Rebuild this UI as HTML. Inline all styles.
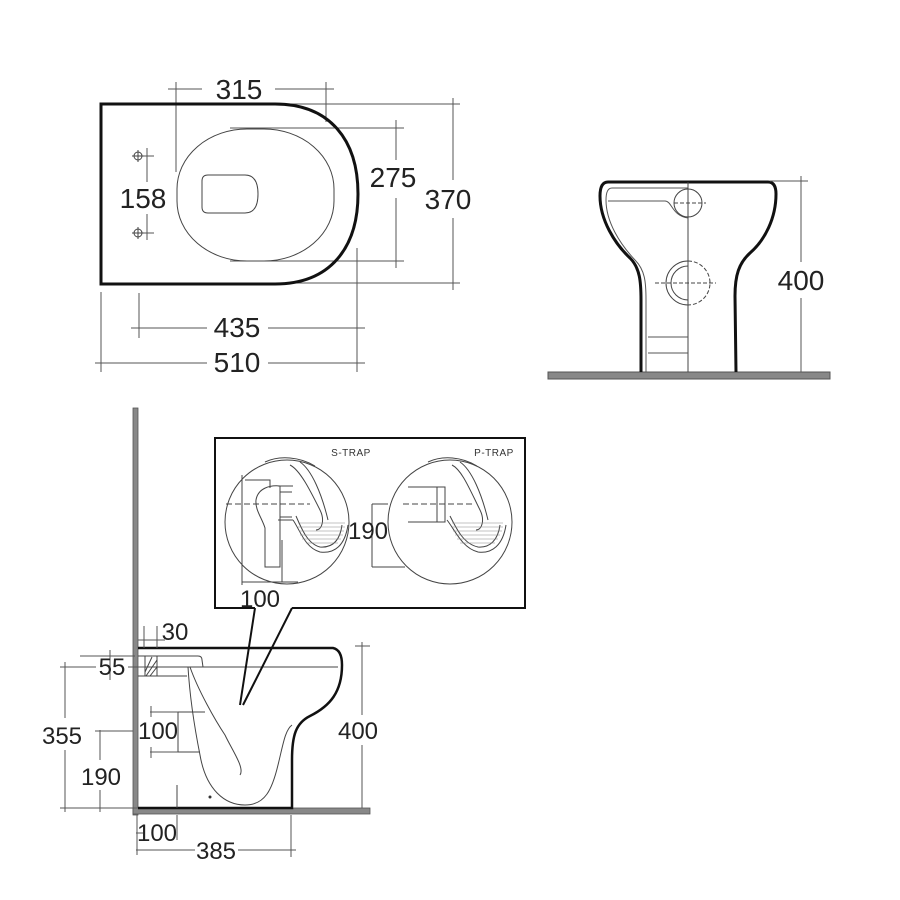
<!DOCTYPE html>
<html><head><meta charset="utf-8"><style>html,body{margin:0;padding:0;background:#fff}svg{display:block}</style></head>
<body>
<svg width="900" height="900" viewBox="0 0 900 900" xmlns="http://www.w3.org/2000/svg" font-family="Liberation Sans, Arial, sans-serif">
<rect width="900" height="900" fill="#fff"/>
<g fill="none" stroke="#555" stroke-width="1">
<line x1="168" y1="89" x2="202" y2="89"/><line x1="275" y1="89" x2="334" y2="89"/>
<line x1="176" y1="82" x2="176" y2="172"/><line x1="326" y1="82" x2="326" y2="122"/>
<line x1="230" y1="128" x2="404" y2="128"/><line x1="230" y1="261" x2="404" y2="261"/>
<line x1="396" y1="120" x2="396" y2="160"/><line x1="396" y1="198" x2="396" y2="268"/>
<line x1="290" y1="104" x2="460" y2="104"/><line x1="290" y1="283" x2="460" y2="283"/>
<line x1="453" y1="98" x2="453" y2="180"/><line x1="453" y1="218" x2="453" y2="290"/>
<line x1="147" y1="148" x2="147" y2="182"/><line x1="147" y1="214" x2="147" y2="240"/>
<line x1="132" y1="156" x2="154" y2="156"/><line x1="132" y1="233" x2="154" y2="233"/>
<line x1="131" y1="328" x2="207" y2="328"/><line x1="268" y1="328" x2="365" y2="328"/>
<line x1="139" y1="293" x2="139" y2="338"/><line x1="357" y1="248" x2="357" y2="372"/>
<line x1="95" y1="363" x2="207" y2="363"/><line x1="268" y1="363" x2="365" y2="363"/>
<line x1="101" y1="292" x2="101" y2="372"/>
</g>
<path d="M101,104 H275 C330,104 358,140 358,194 C358,248 330,284 275,284 H101 Z" fill="none" stroke="#111" stroke-width="3"/>
<rect x="177" y="129" width="157" height="132" rx="70" ry="60" fill="none" stroke="#444" stroke-width="1"/>
<path d="M208,175 H245 Q258,175 258,194 Q258,213 245,213 H208 Q202,213 202,207 V181 Q202,175 208,175 Z" fill="none" stroke="#444" stroke-width="1"/>
<g fill="none" stroke="#444" stroke-width="1">
<circle cx="138" cy="156" r="4"/><line x1="132" y1="156" x2="144" y2="156"/><line x1="138" y1="150" x2="138" y2="162"/>
<circle cx="138" cy="233" r="4"/><line x1="132" y1="233" x2="144" y2="233"/><line x1="138" y1="227" x2="138" y2="239"/>
</g>
<g font-size="28" fill="#222" text-anchor="middle">
<text x="239" y="99">315</text><text x="393" y="187">275</text><text x="448" y="209">370</text>
<text x="143" y="208">158</text><text x="237" y="337">435</text><text x="237" y="372">510</text>
</g>
<rect x="548" y="372" width="282" height="7" fill="#888" stroke="#555" stroke-width="1"/>
<path d="M608,182 H768 Q776,182 776,194 C776,218 765,240 750,253 C739,263 735,275 735,296 L736,372 M608,182 Q600,182 600,196 C600,220 615,244 630,258 C640,268 641,282 641,300 L641,372" fill="none" stroke="#111" stroke-width="3"/>
<path d="M612,188 H688 M612,188 Q606,188 606,200 C606,222 620,244 635,260 C645,270 646,282 646,300 L646,372" fill="none" stroke="#555" stroke-width="1"/>
<line x1="688" y1="182" x2="688" y2="372" stroke="#444" stroke-width="1"/>
<path d="M608,201 H665 C672,201 672,216 688,218" fill="none" stroke="#555"/>
<circle cx="688" cy="203" r="14" fill="none" stroke="#444"/>
<line x1="674" y1="203" x2="706" y2="203" stroke="#444" stroke-dasharray="4,2"/>
<path d="M688,261 A22,22 0 0 0 688,305" fill="none" stroke="#444"/>
<path d="M688,261 A22,22 0 0 1 688,305" fill="none" stroke="#444" stroke-dasharray="4,2"/>
<path d="M688,266 A17,17 0 0 0 688,300" fill="none" stroke="#444"/>
<line x1="655" y1="283" x2="716" y2="283" stroke="#444" stroke-dasharray="4,2"/>
<line x1="648" y1="337" x2="688" y2="337" stroke="#555"/><line x1="648" y1="353" x2="688" y2="353" stroke="#555"/>
<g stroke="#555"><line x1="770" y1="181" x2="808" y2="181"/><line x1="801" y1="176" x2="801" y2="262"/><line x1="801" y1="298" x2="801" y2="372"/></g>
<text x="801" y="290" font-size="28" fill="#222" text-anchor="middle">400</text>
<rect x="133" y="408" width="5" height="407" fill="#888" stroke="#555" stroke-width="0.8"/>
<rect x="133" y="808" width="237" height="6" fill="#888" stroke="#555" stroke-width="0.8"/>
<path d="M138,648 H333 Q342,650 342,665 C342,692 330,706 310,716 C296,723 292,735 292,760 L292,808 H138" fill="none" stroke="#111" stroke-width="2.5"/>
<g fill="none" stroke="#444" stroke-width="1">
<path d="M138,656 H198 Q202,656 202,660 L203,667 H138"/>
<line x1="200" y1="667" x2="338" y2="667"/>
<path d="M190,667 C198,690 215,720 225,735 C232,750 245,768 240,775"/>
<path d="M188,667 C190,700 195,730 200,755 C206,790 225,805 245,805 C265,805 272,790 278,765 C283,745 285,730 292,725"/>
<path d="M138,676 H187"/>
<rect x="145" y="656" width="12" height="20"/>
<line x1="145" y1="672" x2="152" y2="657"/><line x1="146" y1="676" x2="157" y2="660"/><line x1="150" y1="676" x2="157" y2="667"/>
<path d="M205,712 H178 V752 H200"/>
<line x1="177" y1="785" x2="177" y2="808"/>
</g>
<circle cx="210" cy="797" r="1.5" fill="#333"/>
<path d="M255,608 L240,705 M292,608 L243,705" stroke="#111" stroke-width="2" fill="none"/>
<path d="M255,608 H215 V438 H525 V608 H292" fill="none" stroke="#111" stroke-width="2"/>
<g fill="none" stroke="#444" stroke-width="1">
<circle cx="287" cy="522" r="62"/><circle cx="450" cy="522" r="62"/>
<line x1="226" y1="504" x2="310" y2="504" stroke-dasharray="6,3"/>
<line x1="403" y1="504" x2="475" y2="504" stroke-dasharray="6,3"/>
<path d="M265,567 V528 C262,518 255,510 256,500 C258,488 270,485 280,486 V567 Z"/>
<path d="M242,475 V585 M245,480 H270 V488"/>
<path d="M278,486 H293 M278,520 H293"/>
<path d="M280,492 H292 M280,517 H292"/>
<path d="M290,465 C300,470 310,490 320,510 C325,520 322,530 316,530"/>
<path d="M300,462 C312,470 322,495 328,520"/>
<path d="M293,520 C300,530 305,548 320,552 C335,554 345,545 348,525"/>
<path d="M296,516 C302,530 308,544 320,547 C333,548 340,540 342,525"/>
<path d="M265,462 C280,455 300,457 315,466"/>
<path d="M408,487 H445 V522 H408"/>
<path d="M437,487 V522"/>
<path d="M452,465 C462,470 470,490 480,510 C485,520 482,530 476,530"/>
<path d="M460,462 C472,470 482,495 488,520"/>
<path d="M447,520 C455,530 462,548 478,552 C492,554 503,545 506,525"/>
<path d="M450,516 C457,530 464,544 478,547 C490,548 498,540 500,525"/>
<path d="M428,462 C443,455 462,457 477,466"/>
<path d="M372,504 H388 M372,567 V504 M372,567 H405"/>
<path d="M242,582 H298 M282,540 V582"/>
</g>
<g stroke="#888" stroke-width="0.6">
<line x1="298" y1="523" x2="345" y2="523"/><line x1="298" y1="527" x2="345" y2="527"/><line x1="299" y1="531" x2="344" y2="531"/><line x1="300" y1="535" x2="343" y2="535"/><line x1="302" y1="539" x2="341" y2="539"/><line x1="306" y1="543" x2="338" y2="543"/>
<line x1="452" y1="523" x2="503" y2="523"/><line x1="452" y1="527" x2="503" y2="527"/><line x1="453" y1="531" x2="502" y2="531"/><line x1="455" y1="535" x2="500" y2="535"/><line x1="457" y1="539" x2="498" y2="539"/><line x1="460" y1="543" x2="495" y2="543"/>
</g>
<g font-size="10" fill="#333" text-anchor="middle" letter-spacing="0.5">
<text x="351" y="456">S-TRAP</text><text x="494" y="456">P-TRAP</text>
</g>
<g font-size="24" fill="#222" text-anchor="middle">
<text x="368" y="539">190</text><text x="260" y="607">100</text>
</g>
<g stroke="#555" stroke-width="1" fill="none">
<line x1="144" y1="626" x2="144" y2="648"/><line x1="157" y1="626" x2="157" y2="648"/>
<line x1="138" y1="640" x2="165" y2="640"/>
<line x1="60" y1="667" x2="96" y2="667"/><line x1="128" y1="667" x2="145" y2="667"/>
<line x1="80" y1="656" x2="135" y2="656"/><line x1="110" y1="650" x2="110" y2="680"/>
<line x1="65" y1="662" x2="65" y2="718"/><line x1="65" y1="750" x2="65" y2="812"/>
<line x1="60" y1="808" x2="133" y2="808"/>
<line x1="100" y1="730" x2="100" y2="760"/><line x1="100" y1="790" x2="100" y2="812"/>
<line x1="95" y1="731" x2="133" y2="731"/>
<line x1="150" y1="712" x2="178" y2="712"/><line x1="150" y1="752" x2="178" y2="752"/>
<line x1="151" y1="706" x2="151" y2="717"/><line x1="151" y1="747" x2="151" y2="758"/>
<line x1="355" y1="646" x2="370" y2="646"/><line x1="362" y1="642" x2="362" y2="715"/><line x1="362" y1="745" x2="362" y2="808"/>
<line x1="136" y1="833" x2="143" y2="833"/><line x1="137" y1="815" x2="137" y2="855"/><line x1="177" y1="815" x2="177" y2="840"/>
<line x1="136" y1="850" x2="195" y2="850"/><line x1="238" y1="850" x2="296" y2="850"/><line x1="291" y1="815" x2="291" y2="857"/>
</g>
<g font-size="24" fill="#222" text-anchor="middle">
<text x="175" y="640">30</text><text x="112" y="675">55</text>
<text x="62" y="744">355</text><text x="158" y="739">100</text><text x="358" y="739">400</text>
<text x="101" y="785">190</text><text x="157" y="841">100</text><text x="216" y="859">385</text>
</g>
</svg>
</body></html>
